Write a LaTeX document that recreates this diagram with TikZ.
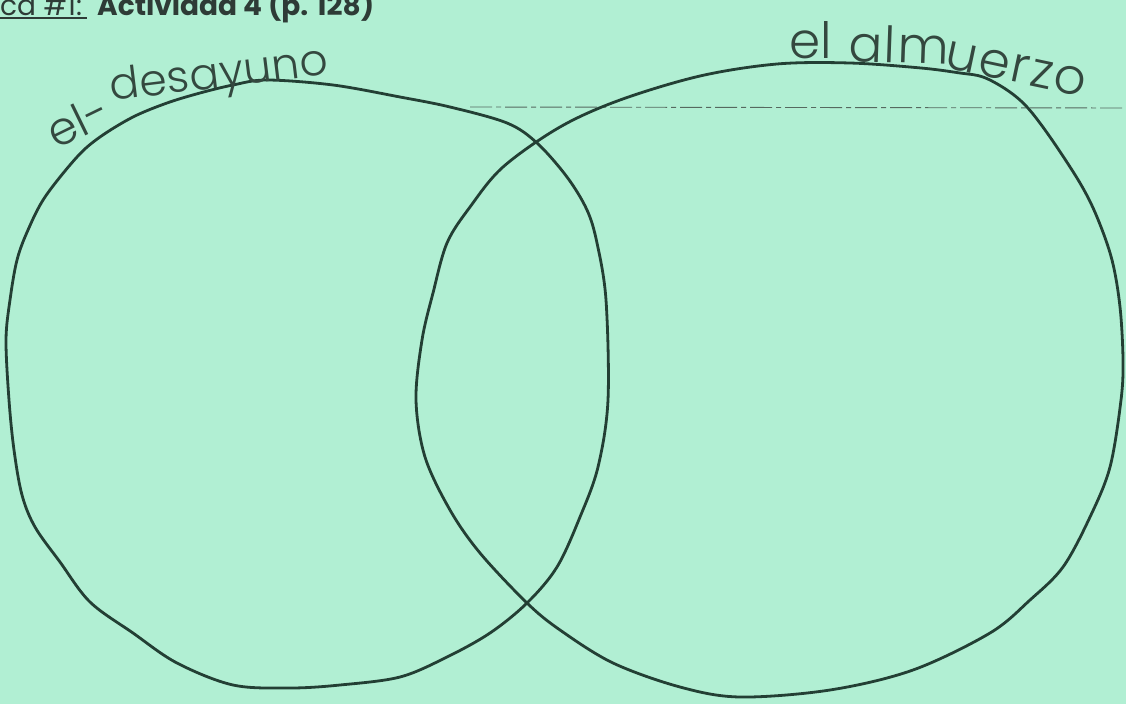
\documentclass[tikz,border=0pt]{standalone}
\usepackage{fontspec}
\setmainfont{Poppins}
\newfontfamily\hand{Poppins Light}[LetterSpace=4]
\newfontfamily\handtight{Poppins Light}[LetterSpace=1]
\definecolor{paper}{HTML}{B1EFD3}
\definecolor{ink}{HTML}{233F34}
\definecolor{pencil}{HTML}{34483F}
\definecolor{print}{HTML}{2E3B36}
\definecolor{ruled}{HTML}{56695F}
\tikzset{
  pen/.style={draw=ink, line width=2.8pt, line join=round},
  handtext/.style={inner sep=0pt, text=pencil, font=\hand\fontsize{44}{44}\selectfont, anchor=base west},
  bighand/.style={handtext, font=\hand\fontsize{50}{50}\selectfont},
  titletext/.style={inner sep=0pt, text=print, font=\fontsize{28}{28}\selectfont, anchor=base west},
  ruleline/.style={draw=ruled, line width=0.9pt, dash pattern=on 22pt off 4pt on 5pt off 4pt},
}
\begin{document}
\begin{tikzpicture}[x=1pt,y=-1pt]
\useasboundingbox (0,0) rectangle (1126,704);
\fill[paper] (0,0) rectangle (1126,704);
% ruled line
\coordinate (rl1) at (470,107);
\coordinate (rl2) at (1126,108);
\draw[ruleline] (rl1) -- (rl2);
% title
\node[titletext] (tnum) at (0,15) {ca \#1:};
\draw[print, line width=1.4pt] (tnum.base west) ++(0,3) -- ++(87,0);
\node[titletext, font=\bfseries\fontsize{28}{28}\selectfont] (tact) at (97,15) {Actividad 4 (p. 128)};
% left circle
\draw[pen] plot[smooth cycle, tension=0.55] coordinates {
 (267,80) (333,85) (400,97) (450,107) (507,123) (537,143) (567,177) (587,210)
 (597,243) (606,300) (608,400) (598,467) (580,517) (557,567) (527,603) (490,633)
 (447,657) (400,677) (340,685) (290,688) (233,685) (177,663) (133,633) (90,602)
 (60,562) (35,527) (22,495) (14,450) (9,400) (6,340) (10,300) (17,260) (28,230)
 (45,197) (77,157) (100,137) (133,117) (167,103) (200,93) (233,85)};
% right circle
\draw[pen] plot[smooth cycle, tension=0.55] coordinates {
 (560,127) (620,100) (700,76) (777,64) (850,63) (921,68) (960,73) (983,77)
 (1007,90) (1027,107) (1050,137) (1080,183) (1097,217) (1112,260) (1120,307)
 (1123,360) (1121,400) (1110,467) (1090,517) (1063,567) (1030,600) (990,633)
 (913,670) (830,690) (740,697) (680,687) (613,663) (560,630) (527,603) (480,553)
 (450,510) (425,457) (416,400) (422,340) (433,293) (447,243) (470,207) (503,167)};
% handwritten labels
\node[handtext, font=\handtight\fontsize{46}{46}\selectfont, rotate=26] (lel) at (56,150) {el-};
\node[handtext, font=\handtight\fontsize{44}{44}\selectfont, rotate=7] (ldes) at (111,101) {desayuno};
\node[bighand, font=\handtight\fontsize{50}{50}\selectfont] (rel) at (789,58) {el};
\node[bighand, rotate=-2] (ralm) at (848,61) {alm};
\node[bighand, rotate=-12] (ruer) at (943,67) {uerzo};
\end{tikzpicture}
\end{document}
